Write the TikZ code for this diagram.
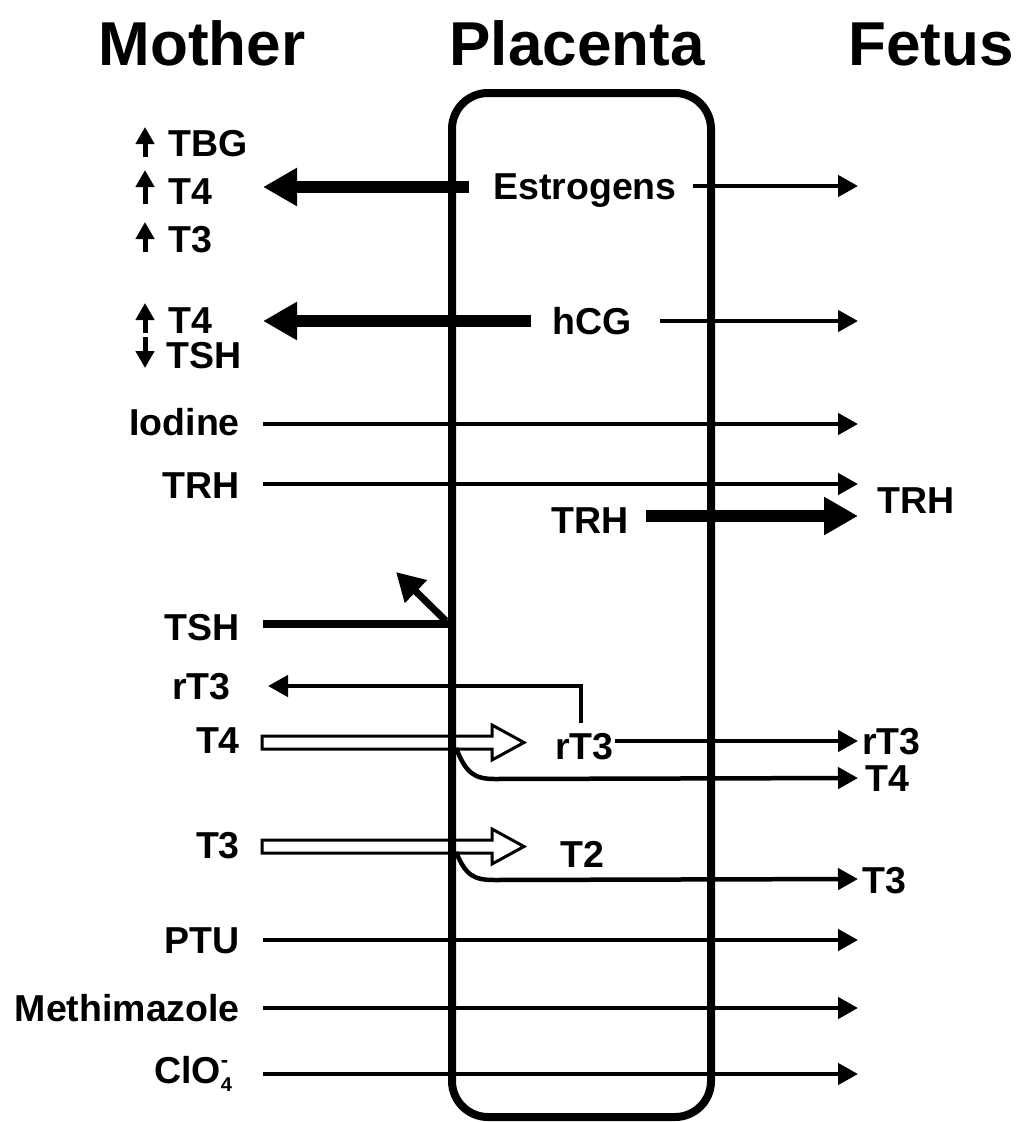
\documentclass[tikz,border=0pt]{standalone}
\usepackage{fontspec}
\setmainfont{Liberation Sans}
\usetikzlibrary{arrows.meta}
\tikzset{
  lbl/.style={font=\fontsize{37.5}{40}\selectfont\bfseries, inner sep=0pt},
  ttl/.style={font=\fontsize{62}{66}\selectfont\bfseries, inner sep=0pt, anchor=base},
  thin/.style={line width=4.5pt, -{Triangle[length=20pt,width=21pt]}},
  thinline/.style={line width=4.5pt},
  thick/.style={line width=12pt, -{Triangle[length=34pt,width=36pt]}},
  small/.style={line width=5pt, -{Triangle[length=17pt,width=18pt]}},
  hollow/.style={line width=3pt, draw=black, fill=white, line join=miter},
}
\begin{document}
\begin{tikzpicture}[x=1pt,y=-1pt]
\useasboundingbox (0,0) rectangle (1018,1122);
% titles
\node[ttl] (tm) at (202,65) {Mother};
\node[ttl] (tp) at (577,65) {Placenta};
\node[ttl] (tf) at (931,65) {Fetus};

% hollow arrows (under the box line)
\draw[hollow] (262,736) -- (492,736) -- (492,725) -- (524,742.5) -- (492,760) -- (492,749) -- (262,749) -- cycle;
\draw[hollow] (262,840) -- (492,840) -- (492,829) -- (524,846.5) -- (492,864) -- (492,853) -- (262,853) -- cycle;

% placenta box
\draw[line width=8pt, rounded corners=36pt] (452,93) rectangle (711,1117);

% left column labels with small arrows
\node[lbl, anchor=base west] (tbg) at (168,156) {TBG};
\node[lbl, anchor=base west] (t4a) at (168,204) {T4};
\node[lbl, anchor=base west] (t3a) at (168,252) {T3};
\node[lbl, anchor=base west] (t4b) at (168,333) {T4};
\node[lbl, anchor=base west] (tshb) at (166,368) {TSH};
\coordinate (u1a) at (145,157); \coordinate (u1b) at (145,127);
\coordinate (u2a) at (145,204); \coordinate (u2b) at (145,170);
\coordinate (u3a) at (145,252); \coordinate (u3b) at (145,222);
\coordinate (u4a) at (145,333); \coordinate (u4b) at (145,303);
\coordinate (d5a) at (145,337); \coordinate (d5b) at (145,368);
\draw[small] (u1a) -- (u1b);
\draw[small] (u2a) -- (u2b);
\draw[small] (u3a) -- (u3b);
\draw[small] (u4a) -- (u4b);
\draw[small] (d5a) -- (d5b);

% Estrogens row
\node[lbl, anchor=base] (estr) at (585,199) {Estrogens};
\coordinate (e1) at (469,187); \coordinate (e2) at (263,187);
\draw[thick] (e1) -- (e2);
\coordinate (e3) at (693,186); \coordinate (e4) at (858,186);
\draw[thin] (e3) -- (e4);

% hCG row
\node[lbl, anchor=base] (hcg) at (592,334) {hCG};
\coordinate (h1) at (531,321); \coordinate (h2) at (263,321);
\draw[thick] (h1) -- (h2);
\coordinate (h3) at (660,321); \coordinate (h4) at (858,321);
\draw[thin] (h3) -- (h4);

% Iodine
\node[lbl, anchor=base east] (iod) at (240,435) {Iodine};
\coordinate (i1) at (263,424); \coordinate (i2) at (858,424);
\draw[thin] (i1) -- (i2);

% TRH
\node[lbl, anchor=base east] (trhm) at (240,498) {TRH};
\coordinate (r1) at (263,484); \coordinate (r2) at (858,484);
\draw[thin] (r1) -- (r2);
\node[lbl, anchor=base west] (trhf) at (877,513) {TRH};
\node[lbl, anchor=base] (trhp) at (590,533) {TRH};
\coordinate (r3) at (646,516); \coordinate (r4) at (858,516);
\draw[thick] (r3) -- (r4);

% TSH
\node[lbl, anchor=base east] (tshm) at (240,640) {TSH};
\coordinate (s1) at (263,624); \coordinate (s2) at (452,624);
\draw[line width=8pt] (s1) -- (s2);
\coordinate (s3) at (446,621); \coordinate (s4) at (396,572);
\draw[line width=7pt, -{Triangle[length=28pt,width=30pt]}] (s3) -- (s4);

% rT3 back to mother
\node[lbl, anchor=base west] (rt3m) at (172,699) {rT3};
\coordinate (q1) at (581,723); \coordinate (q2) at (581,686); \coordinate (q3) at (268,686);
\draw[thinline, -{Triangle[length=20pt,width=21pt]}] (q1) -- (q2) -- (q3);

% T4 row
\node[lbl, anchor=base east] (t4m) at (240,753) {T4};
\node[lbl, anchor=base west] (rt3p) at (555,759) {rT3};
\coordinate (a1) at (615,741); \coordinate (a2) at (858,741);
\draw[thin] (a1) -- (a2);
\node[lbl, anchor=base west] (rt3f) at (862,754) {rT3};
\coordinate (c1) at (456,748); \coordinate (c2) at (495,779); \coordinate (c3) at (858,778);
\draw[thinline, -{Triangle[length=20pt,width=21pt]}] (c1) .. controls (466,773) and (474,779) .. (c2) -- (c3);
\node[lbl, anchor=base west] (t4f) at (865,791) {T4};

% T3 row
\node[lbl, anchor=base east] (t3m) at (240,858) {T3};
\node[lbl, anchor=base west] (t2p) at (560,867) {T2};
\coordinate (b1) at (456,852); \coordinate (b2) at (495,880); \coordinate (b3) at (858,879);
\draw[thinline, -{Triangle[length=20pt,width=21pt]}] (b1) .. controls (466,876) and (474,880) .. (b2) -- (b3);
\node[lbl, anchor=base west] (t3f) at (862,893) {T3};

% drugs
\node[lbl, anchor=base east] (ptu) at (240,953) {PTU};
\coordinate (p1) at (263,940); \coordinate (p2) at (858,940);
\draw[thin] (p1) -- (p2);
\node[lbl, anchor=base east] (meth) at (240,1021) {Methimazole};
\coordinate (m1) at (263,1008); \coordinate (m2) at (858,1008);
\draw[thin] (m1) -- (m2);
\node[lbl, anchor=base west] (clo) at (154,1083) {ClO\raisebox{-8pt}{\fontsize{20}{22}\selectfont 4}\hspace{-11pt}\raisebox{16pt}{\fontsize{22}{22}\selectfont -}};
\coordinate (k1) at (263,1074); \coordinate (k2) at (858,1074);
\draw[thin] (k1) -- (k2);
\end{tikzpicture}
\end{document}
